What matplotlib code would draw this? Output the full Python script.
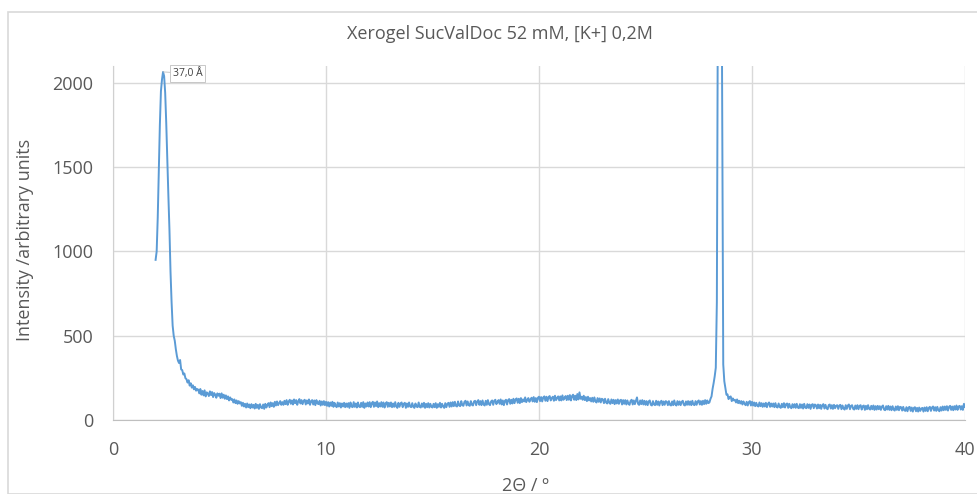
import numpy as np
import matplotlib
matplotlib.use("Agg")
import matplotlib.pyplot as plt
from matplotlib.patches import Rectangle

# =====================================
# Data (2Theta scan, 0.05 deg step from 2.00 to 40.00)
# =====================================

two_theta_start = 2.0
two_theta_step = 0.05

intensity = [
    # 2.00 - 2.95
    950, 1000, 1200, 1470, 1750, 1950, 2020, 2065, 2040, 1940,
    1760, 1540, 1330, 1130, 880, 700, 560, 500, 470, 420,
    # 3.00 - 3.95
    380, 352, 338, 356, 300, 296, 270, 276, 248, 242,
    222, 236, 204, 218, 192, 206, 182, 196, 174, 184,
    # 4.00 - 4.95
    180, 158, 184, 150, 172, 146, 176, 140, 164, 158,
    142, 170, 148, 166, 136, 160, 150, 132, 158, 144,
    # 5.00 - 5.95
    156, 130, 158, 132, 150, 126, 146, 124, 140, 116,
    134, 120, 124, 104, 122, 100, 116, 96, 112, 98,
    # 6.00 - 6.95
    106, 84, 102, 80, 96, 74, 98, 76, 92, 70,
    94, 74, 90, 68, 96, 72, 90, 66, 94, 74,
    # 7.00 - 7.95
    70, 92, 66, 96, 74, 90, 100, 76, 104, 82,
    100, 78, 108, 86, 110, 88, 100, 112, 90, 106,
    # 8.00 - 8.95
    90, 114, 94, 118, 90, 110, 120, 96, 116, 92,
    122, 100, 118, 90, 112, 124, 98, 118, 94, 114,
    # 9.00 - 9.95
    120, 92, 116, 98, 122, 90, 112, 118, 92, 116,
    88, 118, 98, 94, 114, 86, 110, 90, 112, 88,
    # 10.00 - 10.95
    108, 84, 106, 80, 104, 84, 108, 78, 102, 84,
    76, 104, 80, 100, 74, 98, 80, 102, 76, 98,
    # 11.00 - 11.95
    78, 100, 72, 104, 80, 76, 106, 78, 98, 74,
    104, 80, 76, 102, 78, 106, 72, 98, 80, 104,
    # 12.00 - 12.95
    80, 106, 76, 100, 108, 78, 104, 82, 110, 76,
    100, 80, 106, 78, 104, 74, 98, 106, 78, 102,
    # 13.00 - 13.95
    80, 104, 76, 98, 78, 106, 80, 72, 102, 78,
    98, 104, 76, 96, 102, 72, 98, 78, 104, 80,
    # 14.00 - 14.95
    76, 100, 78, 72, 98, 80, 76, 104, 78, 74,
    98, 78, 102, 72, 96, 76, 100, 74, 96, 78,
    # 15.00 - 15.95
    74, 96, 76, 100, 72, 94, 78, 102, 74, 96,
    80, 72, 100, 76, 96, 102, 78, 104, 80, 106,
    # 16.00 - 16.95
    82, 108, 84, 80, 110, 86, 82, 112, 88, 84,
    108, 114, 86, 110, 88, 84, 112, 90, 86, 110,
    # 17.00 - 17.95
    114, 88, 110, 118, 90, 112, 88, 116, 92, 86,
    114, 90, 118, 94, 88, 110, 116, 90, 114, 120,
    # 18.00 - 18.95
    94, 108, 118, 96, 122, 92, 116, 88, 114, 120,
    92, 118, 124, 96, 120, 98, 126, 100, 122, 128,
    # 19.00 - 19.95
    102, 126, 100, 130, 106, 122, 110, 134, 106, 120,
    130, 108, 122, 132, 110, 136, 108, 130, 106, 132,
    # 20.00 - 20.95
    138, 112, 136, 110, 134, 140, 114, 138, 112, 136,
    142, 116, 130, 138, 114, 144, 118, 130, 140, 116,
    # 21.00 - 21.95
    140, 116, 146, 120, 132, 142, 118, 144, 120, 148,
    116, 142, 150, 120, 144, 118, 154, 122, 164, 126,
    # 22.00 - 22.95
    138, 120, 144, 118, 136, 112, 138, 116, 130, 110,
    132, 108, 134, 110, 104, 130, 108, 128, 104, 126,
    # 23.00 - 23.95
    122, 100, 126, 104, 98, 124, 102, 96, 122, 100,
    120, 94, 118, 98, 122, 96, 116, 120, 92, 118,
    # 24.00 - 24.95
    96, 118, 92, 116, 96, 90, 114, 120, 92, 116,
    94, 114, 134, 96, 90, 116, 94, 118, 92, 114,
    # 25.00 - 25.95
    90, 112, 88, 110, 116, 90, 86, 112, 92, 88,
    114, 90, 110, 86, 108, 114, 88, 110, 90, 112,
    # 26.00 - 26.95
    108, 88, 112, 90, 86, 110, 88, 116, 92, 86,
    112, 90, 110, 88, 108, 114, 90, 86, 110, 90,
    # 27.00 - 27.95
    112, 90, 110, 88, 114, 92, 88, 112, 90, 110,
    116, 92, 112, 90, 114, 94, 118, 96, 116, 100,
    # 28.00 - 28.95
    104, 125, 140, 185, 220, 260, 310, 700, 2600, 5800,
    5200, 3400, 1900, 330, 230, 190, 150, 152, 124, 136,
    # 29.00 - 29.95
    140, 112, 128, 116, 120, 104, 122, 100, 114, 98,
    112, 92, 110, 96, 88, 108, 86, 106, 112, 86,
    # 30.00 - 30.95
    108, 86, 104, 82, 102, 84, 80, 104, 82, 100,
    78, 98, 80, 102, 76, 96, 104, 78, 98, 80,
    # 31.00 - 31.95
    98, 76, 100, 78, 74, 98, 78, 72, 96, 76,
    100, 74, 94, 98, 72, 96, 76, 70, 94, 74,
    # 32.00 - 32.95
    94, 72, 96, 74, 70, 94, 72, 92, 68, 96,
    74, 70, 94, 72, 92, 66, 90, 94, 70, 92,
    # 33.00 - 33.95
    88, 68, 92, 70, 90, 66, 88, 94, 68, 90,
    70, 64, 88, 92, 68, 88, 66, 90, 70, 84,
    # 34.00 - 34.95
    88, 66, 86, 90, 64, 86, 68, 62, 88, 66,
    86, 92, 64, 84, 88, 66, 62, 86, 66, 88,
    # 35.00 - 35.95
    64, 84, 88, 62, 82, 86, 60, 84, 64, 88,
    66, 62, 84, 64, 86, 60, 82, 62, 84, 64,
    # 36.00 - 36.95
    82, 60, 80, 86, 62, 58, 82, 62, 84, 60,
    80, 58, 82, 62, 56, 80, 60, 82, 58, 78,
    # 37.00 - 37.95
    76, 56, 78, 58, 54, 76, 52, 74, 78, 54,
    74, 50, 72, 76, 52, 72, 50, 74, 54, 68,
    # 38.00 - 38.95
    72, 50, 74, 54, 76, 52, 72, 78, 54, 74,
    80, 56, 76, 54, 78, 58, 52, 76, 56, 80,
    # 39.00 - 39.95
    58, 80, 60, 82, 56, 78, 84, 60, 80, 58,
    82, 62, 86, 60, 80, 84, 62, 82, 60, 96,
    # 40.00
    78,
]

x_ticks = [0, 10, 20, 30, 40]
y_ticks = [0, 500, 1000, 1500, 2000]

title_text = "Xerogel SucValDoc 52 mM, [K+] 0,2M"
x_label = "2\u0398 / \u00ba"
y_label = "Intensity /arbitrary units"
peak_label = "37,0 \u00c5"
peak_label_index = 7

two_theta = two_theta_start + two_theta_step * np.arange(len(intensity))

# =====================================
# Style
# =====================================

plt.rcParams["font.family"] = ["Open Sans", "DejaVu Sans"]

text_color = "#595959"
grid_color = "#d9d9d9"
line_color = "#5b9bd5"

W, H = 978, 494

fig = plt.figure(figsize=(W / 100, H / 100), dpi=100)

# chart border (Excel chart area)
fig.patches.append(
    Rectangle((8 / W, 0), 2, 1 - 12 / H, transform=fig.transFigure,
              fill=False, edgecolor=grid_color, linewidth=1.2)
)

ax = fig.add_axes([113 / W, 1 - 420 / H, 852 / W, 354 / H])

ax.plot(two_theta, intensity, color=line_color, linewidth=1.4)

ax.set_xlim(0, 40)
ax.set_ylim(0, 2100)

ax.set_xticks(x_ticks)
ax.set_yticks(y_ticks)

ax.tick_params(axis="both", length=0, labelsize=13, labelcolor=text_color)
ax.tick_params(axis="y", pad=14)
ax.tick_params(axis="x", pad=15)

ax.grid(True, color=grid_color, linewidth=1.0)
ax.set_axisbelow(True)

for side in ["top", "right"]:
    ax.spines[side].set_visible(False)
ax.spines["left"].set_color("#d0d0d0")
ax.spines["bottom"].set_color("#bfbfbf")

# =====================================
# Texts
# =====================================

fig.text(500 / W, 1 - 34 / H, title_text, ha="center", va="center",
         fontsize=13, color=text_color)

fig.text(25 / W, 1 - 240 / H, y_label, ha="center", va="center",
         rotation=90, fontsize=13, color=text_color)

fig.text(525 / W, 1 - 486 / H, x_label, ha="center", va="center",
         fontsize=13, color=text_color)

# peak callout
ax.annotate(
    peak_label,
    xy=(two_theta[peak_label_index], intensity[peak_label_index]),
    xytext=(10, -1.5), textcoords="offset pixels",
    ha="left", va="center", fontsize=7.5, color="#404040",
    bbox=dict(boxstyle="square,pad=0.25", fc="white", ec="#bfbfbf", lw=0.6),
    arrowprops=dict(arrowstyle="-", color="#bfbfbf", lw=0.6,
                    shrinkA=0, shrinkB=0),
    annotation_clip=False,
)

plt.savefig("out.png", dpi=100)
